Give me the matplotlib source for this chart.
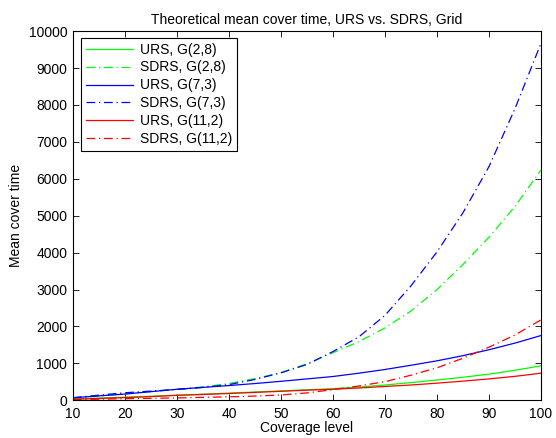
import numpy as np
import matplotlib
matplotlib.use("Agg")
import matplotlib.pyplot as plt

plt.rcParams["font.family"] = ["Liberation Sans", "DejaVu Sans"]
plt.rcParams["font.size"] = 10

# coverage levels
coverage = [10, 15, 20, 25, 30, 35, 40, 45, 50, 55, 60, 65, 70, 75, 80, 85, 90, 95, 100]

# mean cover time
urs_2_8 = [40, 60, 85, 110, 140, 165, 195, 225, 255, 285, 315, 360, 415, 480, 550, 625, 710, 815, 935]
sdrs_2_8 = [40, 120, 170, 235, 295, 365, 455, 590, 750, 990, 1290, 1590, 1960, 2420, 3000, 3680, 4420, 5250, 6240]
urs_7_3 = [70, 120, 170, 235, 300, 350, 400, 455, 515, 580, 645, 735, 835, 950, 1070, 1210, 1370, 1550, 1755]
sdrs_7_3 = [70, 140, 205, 250, 295, 350, 425, 565, 745, 970, 1320, 1720, 2300, 3100, 4020, 5080, 6330, 7900, 9670]
urs_11_2 = [30, 50, 75, 100, 135, 160, 185, 215, 245, 275, 300, 335, 375, 415, 465, 520, 580, 650, 735]
sdrs_11_2 = [20, 30, 45, 55, 65, 80, 95, 115, 145, 200, 290, 390, 505, 680, 880, 1140, 1440, 1770, 2180]

labels = ["URS, G(2,8)", "SDRS, G(2,8)", "URS, G(7,3)", "SDRS, G(7,3)", "URS, G(11,2)", "SDRS, G(11,2)"]

fig = plt.figure(figsize=(5.56, 4.38), dpi=100)
ax = fig.add_axes([0.131, 0.086, 0.842, 0.843])

dd = (0, (7, 3, 1, 3))
ax.plot(coverage, urs_2_8, color=(0, 1, 0), lw=0.9, label=labels[0])
ax.plot(coverage, sdrs_2_8, color=(0, 1, 0), lw=0.9, linestyle=dd, label=labels[1])
ax.plot(coverage, urs_7_3, color=(0, 0, 1), lw=0.9, label=labels[2])
ax.plot(coverage, sdrs_7_3, color=(0, 0, 1), lw=0.9, linestyle=dd, label=labels[3])
ax.plot(coverage, urs_11_2, color=(1, 0, 0), lw=0.9, label=labels[4])
ax.plot(coverage, sdrs_11_2, color=(1, 0, 0), lw=0.9, linestyle=dd, label=labels[5])

ax.set_xlim(10, 100)
ax.set_ylim(0, 10000)
ax.set_xticks(np.arange(10, 101, 10))
ax.set_yticks(np.arange(0, 10001, 1000))
ax.tick_params(direction="in", top=True, right=True, length=4, width=0.6)
ax.tick_params(axis="x", pad=5)
ax.tick_params(axis="y", pad=4)
for s in ax.spines.values():
    s.set_linewidth(0.8)

ax.set_title("Theoretical mean cover time, URS vs. SDRS, Grid", fontsize=10, pad=5)
ax.set_xlabel("Coverage level", labelpad=0)
ax.set_ylabel("Mean cover time", labelpad=4)

leg = ax.legend(loc="upper left", bbox_to_anchor=(0.018, 0.982), fancybox=False,
                edgecolor="black", framealpha=1, handlelength=3.4, handletextpad=0.5,
                labelspacing=0.28, borderpad=0.35, borderaxespad=0)
leg.get_frame().set_linewidth(0.8)

fig.savefig("out.png", dpi=100)
